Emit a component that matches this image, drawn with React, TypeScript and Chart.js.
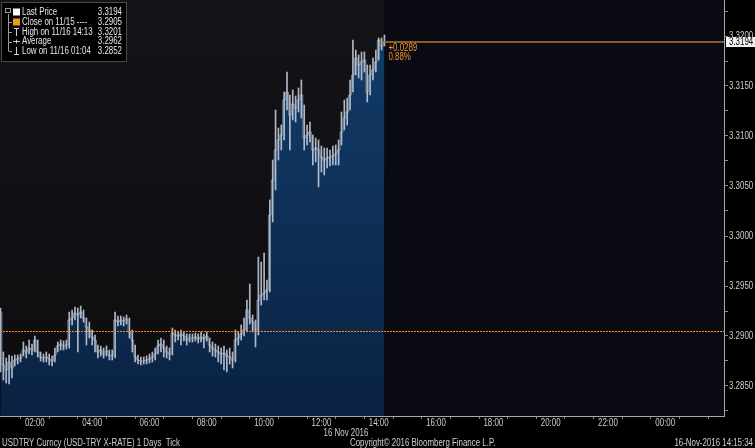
import { useEffect, useRef } from 'react';
import { Chart, registerables } from 'chart.js';
Chart.register(...registerables);

const timeLabels: string[] = [
  "00:48","00:54",
  "01:00","01:06","01:12","01:18","01:24","01:30","01:36","01:42","01:48","01:54",
  "02:00","02:06","02:12","02:18","02:24","02:30","02:36","02:42","02:48","02:54",
  "03:00","03:06","03:12","03:18","03:24","03:30","03:36","03:42","03:48","03:54",
  "04:00","04:06","04:12","04:18","04:24","04:30","04:36","04:42","04:48","04:54",
  "05:00","05:06","05:12","05:18","05:24","05:30","05:36","05:42","05:48","05:54",
  "06:00","06:06","06:12","06:18","06:24","06:30","06:36","06:42","06:48","06:54",
  "07:00","07:06","07:12","07:18","07:24","07:30","07:36","07:42","07:48","07:54",
  "08:00","08:06","08:12","08:18","08:24","08:30","08:36","08:42","08:48","08:54",
  "09:00","09:06","09:12","09:18","09:24","09:30","09:36","09:42","09:48","09:54",
  "10:00","10:06","10:12","10:18","10:24","10:30","10:36","10:42","10:48","10:54",
  "11:00","11:06","11:12","11:18","11:24","11:30","11:36","11:42","11:48","11:54",
  "12:00","12:06","12:12","12:18","12:24","12:30","12:36","12:42","12:48","12:54",
  "13:00","13:06","13:12","13:18","13:24","13:30","13:36","13:42","13:48","13:54",
  "14:00","14:06","14:12",
];

const closes: number[] = [
  3.2924, 3.2871, 3.2866, 3.2874, 3.2868, 3.2876, 3.2877, 3.2878, 3.2886, 3.2884,
  3.2888, 3.2886, 3.2896, 3.2884, 3.2879, 3.2878, 3.2879, 3.2877, 3.2875, 3.2881,
  3.2890, 3.2892, 3.2890, 3.2891, 3.2916, 3.2918, 3.2923, 3.2921, 3.2924, 3.2918,
  3.2909, 3.2906, 3.2899, 3.2896, 3.2884, 3.2886, 3.2882, 3.2885, 3.2881, 3.2880,
  3.2916, 3.2914, 3.2916, 3.2915, 3.2917, 3.2904, 3.2896, 3.2879, 3.2876, 3.2875,
  3.2875, 3.2876, 3.2877, 3.2879, 3.2882, 3.2890, 3.2892, 3.2888, 3.2884, 3.2882,
  3.2903, 3.2901, 3.2900, 3.2902, 3.2900, 3.2896, 3.2898, 3.2898, 3.2899, 3.2897,
  3.2899, 3.2897, 3.2900, 3.2891, 3.2888, 3.2886, 3.2884, 3.2882, 3.2883, 3.2880,
  3.2879, 3.2876, 3.2896, 3.2898, 3.2902, 3.2906, 3.2926, 3.2918, 3.2914, 3.2906,
  3.2936, 3.2941, 3.2943, 3.2946, 3.3021, 3.3056, 3.3086, 3.3096, 3.3101, 3.3136,
  3.3144, 3.3121, 3.3132, 3.3128, 3.3136, 3.3141, 3.3098, 3.3101, 3.3104, 3.3086,
  3.3088, 3.3086, 3.3079, 3.3076, 3.3078, 3.3079, 3.3080, 3.3082, 3.3086, 3.3104,
  3.3118, 3.3124, 3.3141, 3.3161, 3.3178, 3.3171, 3.3174, 3.3176, 3.3144, 3.3161,
  3.3166, 3.3174, 3.3196, 3.3190, 3.3194,
];

const highs: number[] = [
  3.2928, 3.2884, 3.2878, 3.2881, 3.2880, 3.2881, 3.2881, 3.2882, 3.2894, 3.2890,
  3.2896, 3.2892, 3.2900, 3.2896, 3.2884, 3.2882, 3.2884, 3.2882, 3.2880, 3.2888,
  3.2894, 3.2896, 3.2895, 3.2896, 3.2924, 3.2926, 3.2929, 3.2928, 3.2930, 3.2926,
  3.2918, 3.2914, 3.2906, 3.2901, 3.2891, 3.2890, 3.2888, 3.2890, 3.2886, 3.2886,
  3.2924, 3.2920, 3.2920, 3.2919, 3.2921, 3.2918, 3.2906, 3.2891, 3.2881, 3.2879,
  3.2879, 3.2880, 3.2882, 3.2884, 3.2888, 3.2896, 3.2898, 3.2896, 3.2890, 3.2888,
  3.2908, 3.2906, 3.2904, 3.2906, 3.2904, 3.2902, 3.2902, 3.2902, 3.2903, 3.2902,
  3.2904, 3.2902, 3.2904, 3.2898, 3.2894, 3.2892, 3.2890, 3.2888, 3.2890, 3.2886,
  3.2888, 3.2884, 3.2906, 3.2904, 3.2911, 3.2918, 3.2936, 3.2952, 3.2921, 3.2916,
  3.2979, 3.2974, 3.2983, 3.2956, 3.3036, 3.3076, 3.3126, 3.3108, 3.3111, 3.3144,
  3.3164, 3.3141, 3.3146, 3.3140, 3.3148, 3.3156, 3.3131, 3.3111, 3.3114, 3.3101,
  3.3098, 3.3096, 3.3090, 3.3088, 3.3088, 3.3086, 3.3090, 3.3091, 3.3096, 3.3124,
  3.3136, 3.3138, 3.3156, 3.3196, 3.3186, 3.3181, 3.3184, 3.3184, 3.3171, 3.3171,
  3.3178, 3.3186, 3.3198, 3.3198, 3.3201,
];

const lows: number[] = [
  3.2864, 3.2856, 3.2853, 3.2852, 3.2858, 3.2870, 3.2872, 3.2874, 3.2880, 3.2878,
  3.2882, 3.2881, 3.2884, 3.2879, 3.2875, 3.2874, 3.2874, 3.2871, 3.2870, 3.2874,
  3.2884, 3.2886, 3.2886, 3.2887, 3.2888, 3.2911, 3.2916, 3.2884, 3.2918, 3.2914,
  3.2891, 3.2898, 3.2891, 3.2884, 3.2878, 3.2880, 3.2878, 3.2880, 3.2876, 3.2876,
  3.2878, 3.2910, 3.2911, 3.2910, 3.2912, 3.2898, 3.2884, 3.2874, 3.2872, 3.2871,
  3.2872, 3.2872, 3.2873, 3.2874, 3.2876, 3.2882, 3.2884, 3.2879, 3.2878, 3.2876,
  3.2881, 3.2894, 3.2896, 3.2891, 3.2895, 3.2891, 3.2894, 3.2894, 3.2895, 3.2893,
  3.2894, 3.2888, 3.2895, 3.2884, 3.2880, 3.2879, 3.2874, 3.2872, 3.2866, 3.2864,
  3.2872, 3.2868, 3.2874, 3.2891, 3.2896, 3.2900, 3.2904, 3.2912, 3.2904, 3.2889,
  3.2901, 3.2931, 3.2936, 3.2936, 3.2944, 3.3014, 3.3046, 3.3076, 3.3086, 3.3096,
  3.3126, 3.3086, 3.3116, 3.3114, 3.3124, 3.3118, 3.3086, 3.3091, 3.3094, 3.3071,
  3.3074, 3.3049, 3.3064, 3.3061, 3.3068, 3.3070, 3.3071, 3.3071, 3.3071, 3.3091,
  3.3106, 3.3111, 3.3126, 3.3144, 3.3161, 3.3158, 3.3156, 3.3164, 3.3134, 3.3141,
  3.3156, 3.3164, 3.3176, 3.3186, 3.3190,
];

const yTickLabels: number[] = [3.2850, 3.2900, 3.2950, 3.3000, 3.3050, 3.3100, 3.3150, 3.3200];
const xAxisStart = "00:47";
const xAxisEnd = "26:03";

const lastPrice = 3.3194;
const prevClose = 3.2905;
const changeText = "+0.0289";
const changePctText = "0.88%";
const legendRows: [string, string][] = [
  ["Last Price", "3.3194"],
  ["Close on 11/15 ----", "3.2905"],
  ["High on 11/16 14:13", "3.3201"],
  ["Average", "3.2962"],
  ["Low on 11/16 01:04", "3.2852"],
];
const dateLabel = "16 Nov 2016";
const footerLeft = "USDTRY Curncy (USD-TRY X-RATE) 1 Days  Tick";
const footerMid = "Copyright\u00A9 2016 Bloomberg Finance L.P.";
const footerRight = "16-Nov-2016 14:15:34";

const toMin = (s: string) => {
  const [h, m] = s.split(':').map(Number);
  return h * 60 + m;
};

const FONT = '10px "Liberation Sans", Arial, sans-serif';
const SX = 0.79;
const TEXT = '#cfcfcf';
const ORANGE = '#f0962a';
const DOT_ORANGE = '#ff8a12';

function txt(ctx: CanvasRenderingContext2D, s: string, x: number, y: number, align: CanvasTextAlign) {
  ctx.save();
  ctx.translate(x, y);
  ctx.scale(SX, 1);
  ctx.font = FONT;
  ctx.textBaseline = 'middle';
  ctx.textAlign = align;
  ctx.fillText(s, 0, 0);
  ctx.restore();
}

function xLabel(v: number) {
  const h = Math.round(v / 60);
  if (h % 2 !== 0 || h > 24) return '';
  return String(h % 24).padStart(2, '0') + ':00';
}
function yLabel(v: number) {
  const n = Math.round(v * 10000);
  return n % 50 === 0 ? (n / 10000).toFixed(4) : '';
}

export default function App() {
  const ref = useRef<HTMLCanvasElement | null>(null);
  useEffect(() => {
    const canvas = ref.current!;
    const times = timeLabels.map(toMin);
    const lastT = times[times.length - 1];

    const overlay = {
      id: 'overlay',
      beforeDraw(chart: any) {
        const { ctx, chartArea: a, scales } = chart;
        ctx.save();
        ctx.fillStyle = '#000';
        ctx.fillRect(0, 0, chart.width, chart.height);
        const xe = scales.x.getPixelForValue(lastT);
        const g = ctx.createLinearGradient(0, a.top, 0, a.bottom);
        g.addColorStop(0, '#141418');
        g.addColorStop(1, '#0d0d10');
        ctx.fillStyle = g;
        ctx.fillRect(a.left, a.top, xe - a.left, a.bottom - a.top);
        ctx.fillStyle = '#0a0a13';
        ctx.fillRect(xe, a.top, a.right - xe, a.bottom - a.top);
        ctx.restore();
      },
      afterDatasetsDraw(chart: any) {
        const { ctx, chartArea: a, scales } = chart;
        ctx.save();
        const yc = Math.round(scales.y.getPixelForValue(prevClose));
        ctx.fillStyle = DOT_ORANGE;
        for (let x = Math.round(a.left); x < a.right; x += 3) {
          ctx.fillRect(x, yc, 2, 1);
        }
        const yl = scales.y.getPixelForValue(lastPrice);
        const xe = scales.x.getPixelForValue(lastT);
        ctx.strokeStyle = '#b8732f';
        ctx.lineWidth = 1.5;
        ctx.beginPath();
        ctx.moveTo(xe - 4, yl);
        ctx.lineTo(a.right, yl);
        ctx.stroke();
        ctx.fillStyle = ORANGE;
        txt(ctx, changeText, xe + 4, yl + 6, 'left');
        txt(ctx, changePctText, xe + 4, yl + 15, 'left');
        ctx.restore();
      },
      afterDraw(chart: any) {
        const { ctx, chartArea: a, scales } = chart;
        ctx.save();
        ctx.fillStyle = TEXT;
        scales.x.ticks.forEach((t: any) => {
          const s = xLabel(t.value);
          if (s) txt(ctx, s, scales.x.getPixelForValue(t.value), a.bottom + 7, 'center');
        });
        scales.y.ticks.forEach((t: any) => {
          const s = yLabel(t.value);
          if (s) txt(ctx, s, a.right + 5, scales.y.getPixelForValue(t.value), 'left');
        });
        const yl = scales.y.getPixelForValue(lastPrice);
        ctx.fillStyle = '#f2f2f2';
        ctx.fillRect(a.right + 2, yl - 5, 30, 10);
        ctx.fillStyle = '#000';
        txt(ctx, lastPrice.toFixed(4), a.right + 5, yl, 'left');
        ctx.fillStyle = '#000';
        ctx.fillRect(1, 2, 126, 60);
        ctx.strokeStyle = '#4a4a4a';
        ctx.lineWidth = 1;
        ctx.strokeRect(1.5, 2.5, 125, 59);
        const rowY = [12, 22, 32, 41.5, 51];
        ctx.strokeStyle = '#9a9a9a';
        ctx.beginPath();
        ctx.moveTo(8.5, 14);
        ctx.lineTo(8.5, rowY[4]);
        for (let i = 1; i < 5; i++) {
          ctx.moveTo(8.5, Math.round(rowY[i]) + 0.5);
          ctx.lineTo(12, Math.round(rowY[i]) + 0.5);
        }
        ctx.stroke();
        ctx.strokeRect(5.5, 8.5, 5, 4);
        ctx.fillStyle = '#ffffff';
        ctx.fillRect(13, rowY[0] - 3.5, 7, 7);
        ctx.fillStyle = '#f0961e';
        ctx.fillRect(13, rowY[1] - 3.5, 7, 7);
        ctx.strokeStyle = '#d0d0d0';
        ctx.beginPath();
        ctx.moveTo(14, rowY[2] - 3.5); ctx.lineTo(19, rowY[2] - 3.5);
        ctx.moveTo(16.5, rowY[2] - 3.5); ctx.lineTo(16.5, rowY[2] + 4);
        ctx.moveTo(13, rowY[3]); ctx.lineTo(20, rowY[3]);
        ctx.moveTo(16.5, rowY[3] - 2); ctx.lineTo(16.5, rowY[3] + 2);
        ctx.moveTo(16.5, rowY[4] - 4); ctx.lineTo(16.5, rowY[4] + 3.5);
        ctx.moveTo(14, rowY[4] + 3.5); ctx.lineTo(19, rowY[4] + 3.5);
        ctx.stroke();
        ctx.fillStyle = '#e6e6e6';
        legendRows.forEach(([label, val], i) => {
          txt(ctx, label, 22, rowY[i], 'left');
          txt(ctx, val, 122, rowY[i], 'right');
        });
        ctx.fillStyle = TEXT;
        txt(ctx, dateLabel, 346, 433, 'center');
        txt(ctx, footerLeft, 2, 443, 'left');
        txt(ctx, footerMid, 350, 443, 'left');
        txt(ctx, footerRight, 753, 443, 'right');
        ctx.restore();
      },
    };

    const areaFill = (c: any) => {
      const { chart } = c;
      const a = chart.chartArea;
      if (!a) return '#0f3056';
      const g = chart.ctx.createLinearGradient(0, a.top + 30, 0, a.bottom);
      g.addColorStop(0, '#123c69');
      g.addColorStop(1, '#0a2242');
      return g;
    };

    const chart = new Chart(canvas, {
      type: 'line',
      data: {
        datasets: [
          {
            type: 'line',
            data: times.map((t, i) => ({ x: t, y: closes[i] })),
            fill: 'start',
            backgroundColor: areaFill,
            borderColor: 'rgba(180,190,205,0.55)',
            borderWidth: 1,
            pointRadius: 0,
            stepped: 'middle',
            order: 2,
          } as any,
          {
            type: 'bar',
            data: times.map((t, i) => ({ x: t, y: [lows[i], highs[i]] })),
            backgroundColor: 'rgba(205,212,224,0.85)',
            borderWidth: 0,
            barThickness: 1,
            grouped: false,
            order: 1,
          } as any,
        ],
      },
      options: {
        animation: false,
        responsive: false,
        events: [],
        layout: { padding: 0 },
        plugins: { legend: { display: false }, tooltip: { enabled: false } },
        scales: {
          x: {
            type: 'linear',
            offset: false,
            min: toMin(xAxisStart),
            max: toMin(xAxisEnd),
            afterBuildTicks: (s: any) => {
              const ticks = [];
              for (let h = 1; h <= 26; h++) ticks.push({ value: h * 60 });
              s.ticks = ticks;
            },
            afterFit: (s: any) => { s.height = 32; s.paddingLeft = 0; s.paddingRight = 0; },
            ticks: { display: false, autoSkip: false },
            grid: { drawOnChartArea: false, drawTicks: true, tickLength: 3, color: '#8a8a8a' },
            border: { display: true, color: '#a8a8a8' },
          },
          y: {
            type: 'linear',
            position: 'right',
            min: 3.2820,
            max: 3.3236,
            afterBuildTicks: (s: any) => {
              const ticks: any[] = [];
              yTickLabels.forEach((v, i) => {
                ticks.push({ value: v - 0.0025 });
                ticks.push({ value: v });
                if (i === yTickLabels.length - 1) ticks.push({ value: v + 0.0025 });
              });
              s.ticks = ticks;
            },
            afterFit: (s: any) => { s.width = 31; s.paddingTop = 0; s.paddingBottom = 0; },
            ticks: { display: false, autoSkip: false },
            grid: { drawOnChartArea: false, drawTicks: true, tickLength: 4, color: '#8a8a8a' },
            border: { display: true, color: '#a8a8a8' },
          },
        },
      },
      plugins: [overlay],
    });
    return () => chart.destroy();
  }, []);

  return (
    <div style={{ position: 'fixed', left: 0, top: 0, width: 755, height: 448, background: '#000' }}>
      <canvas ref={ref} width={755} height={448} style={{ display: 'block' }} />
    </div>
  );
}
